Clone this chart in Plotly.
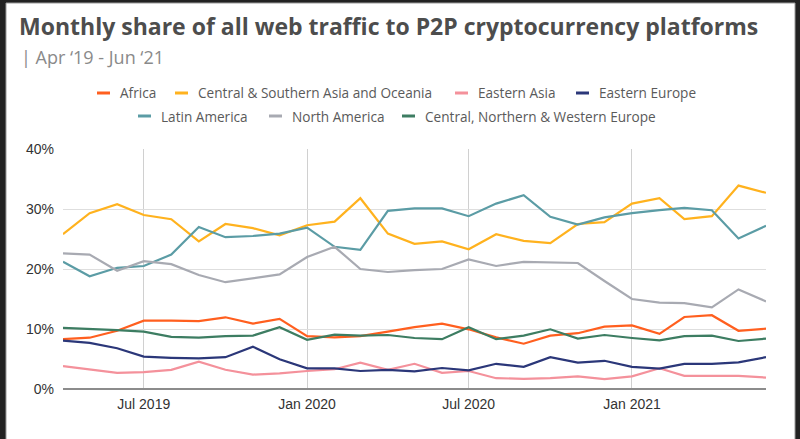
import plotly.graph_objects as go
import pandas as pd

months = pd.date_range("2019-04-01", "2021-06-01", freq="MS")

africa = [8.3, 8.55, 9.7, 11.4, 11.4, 11.3, 11.95, 10.9, 11.7, 8.8, 8.6, 8.8, 9.55, 10.3, 10.9, 9.95,
          8.6, 7.55, 8.9, 9.3, 10.4, 10.6, 9.2, 12.0, 12.3, 9.7, 10.05]
cs_asia = [25.8, 29.3, 30.8, 29.0, 28.3, 24.6, 27.5, 26.8, 25.6, 27.3, 27.9, 31.8, 25.9, 24.2, 24.6, 23.3,
           25.8, 24.7, 24.3, 27.5, 27.8, 30.9, 31.8, 28.3, 28.8, 33.9, 32.7]
east_asia = [3.8, 3.2, 2.7, 2.8, 3.2, 4.55, 3.2, 2.4, 2.6, 3.0, 3.3, 4.4, 3.2, 4.2, 2.7, 3.0,
             1.8, 1.7, 1.8, 2.1, 1.65, 2.1, 3.45, 2.2, 2.2, 2.2, 1.9]
east_europe = [8.05, 7.7, 6.8, 5.4, 5.2, 5.1, 5.3, 7.05, 4.95, 3.45, 3.45, 3.0, 3.2, 2.95, 3.5, 3.1,
               4.2, 3.7, 5.3, 4.4, 4.7, 3.7, 3.4, 4.2, 4.2, 4.45, 5.3]
latin_america = [21.2, 18.8, 20.2, 20.5, 22.4, 27.0, 25.3, 25.5, 25.9, 26.9, 23.7, 23.2, 29.7, 30.1, 30.1, 28.8,
                 30.9, 32.3, 28.7, 27.4, 28.6, 29.3, 29.8, 30.2, 29.8, 25.1, 27.2]
north_america = [22.6, 22.4, 19.7, 21.3, 20.8, 19.0, 17.8, 18.4, 19.1, 22.0, 23.7, 20.0, 19.5, 19.8, 20.0, 21.6,
                 20.5, 21.2, 21.1, 21.0, 18.0, 15.0, 14.4, 14.3, 13.6, 16.6, 14.6]
cnw_europe = [10.2, 10.05, 9.8, 9.55, 8.7, 8.55, 8.8, 8.9, 10.3, 8.2, 9.05, 8.9, 9.0, 8.5, 8.3, 10.3,
              8.3, 8.9, 9.95, 8.4, 9.0, 8.5, 8.1, 8.8, 8.9, 8.0, 8.4]

series_names = ["Africa", "Central & Southern Asia and Oceania", "Eastern Asia", "Eastern Europe",
                "Latin America", "North America", "Central, Northern & Western Europe"]
series_values = [africa, cs_asia, east_asia, east_europe, latin_america, north_america, cnw_europe]
colors = ["#FF5F1F", "#FFB21E", "#F4919B", "#2B3779", "#5B9CA5", "#A8AAB2", "#3D7D62"]

tick_dates = ["2019-07-01", "2020-01-01", "2020-07-01", "2021-01-01"]
tick_labels = ["Jul 2019", "Jan 2020", "Jul 2020", "Jan 2021"]
y_ticks = [0, 10, 20, 30, 40]
y_labels = ["0%", "10%", "20%", "30%", "40%"]

# plot geometry in pixels (for converting layout positions)
W, H = 800, 439
L, R, T, B = 63, 34, 149, 50
PW, PH = W - L - R, H - T - B


def px_x(p):
    return (p - L) / PW


def px_y(p):
    return (H - B - p) / PH


fig = go.Figure()
for name, vals, col in zip(series_names, series_values, colors):
    fig.add_trace(go.Scatter(x=months, y=vals, name=name, mode="lines",
                             line=dict(color=col, width=2.2), showlegend=False))

shapes = [dict(type="rect", xref="paper", yref="paper", x0=px_x(6), x1=px_x(795),
               y0=px_y(445), y1=px_y(3), fillcolor="white", line=dict(width=1, color="#9a9a9a"),
               layer="below")]
annotations = []

# manual legend (short line keys)
legend_rows = [(93, [118, 196, 476, 597]), (116, [159, 290, 423])]
idx = 0
for ypix, starts in legend_rows:
    for s in starts:
        shapes.append(dict(type="line", xref="paper", yref="paper",
                           x0=px_x(s - 21), x1=px_x(s - 8), y0=px_y(ypix), y1=px_y(ypix),
                           line=dict(color=colors[idx], width=3)))
        annotations.append(dict(text=series_names[idx], xref="paper", yref="paper",
                                x=px_x(s), y=px_y(ypix), xanchor="left", yanchor="middle",
                                showarrow=False,
                                font=dict(family="Open Sans", size=13.6, color="#5a5a5a")))
        idx += 1

annotations.append(dict(text="| Apr ‘19 - Jun ‘21", xref="paper", yref="paper",
                        x=px_x(19), y=px_y(57), xanchor="left", yanchor="middle", showarrow=False,
                        font=dict(family="Open Sans", size=18, color="#8a8a8a")))

fig.update_layout(
    width=W, height=H,
    margin=dict(l=L, r=R, t=T, b=B),
    paper_bgcolor="#222222",
    plot_bgcolor="white",
    title=dict(text="<b>Monthly share of all web traffic to P2P cryptocurrency platforms</b>",
               x=19 / W, xanchor="left", y=1 - 27 / H, yanchor="middle",
               font=dict(family="Open Sans", size=23, color="#4d4d4d")),
    shapes=shapes,
    annotations=annotations,
    xaxis=dict(type="date", range=["2019-04-01", "2021-06-01"],
               tickvals=tick_dates, ticktext=tick_labels,
               showgrid=True, gridcolor="#d0d0d0", gridwidth=1,
               zeroline=False, showline=False, ticks="", ticklabelstandoff=5,
               tickfont=dict(family="Liberation Sans, Arial", size=14, color="#333333")),
    yaxis=dict(range=[0, 40], tickvals=y_ticks, ticktext=y_labels,
               showgrid=True, gridcolor="#dedede", gridwidth=1,
               zeroline=True, zerolinecolor="#8c8c8c", zerolinewidth=1.5,
               showline=False, ticks="", ticklabelstandoff=8,
               tickfont=dict(family="Liberation Sans, Arial", size=14, color="#333333")),
)

fig.write_html("out.html")
